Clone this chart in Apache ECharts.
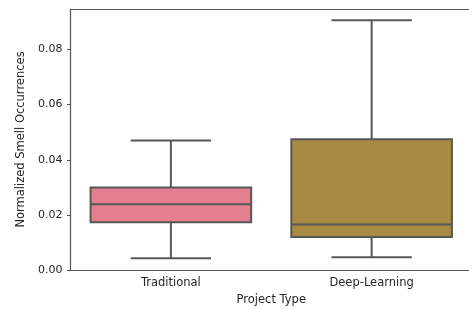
<!DOCTYPE html>
<html>
<head>
<meta charset="utf-8">
<script src="https://cdn.jsdelivr.net/npm/echarts@6/dist/echarts.min.js"></script>
<style>
  html, body { margin: 0; padding: 0; background: #fff; }
  #chart { width: 469px; height: 309px; }
</style>
</head>
<body>
<div id="chart"></div>
<script>
// [lower whisker, Q1, median, Q3, upper whisker]
const categories = ['Traditional', 'Deep-Learning']
const traditional = [0.0043, 0.0173, 0.0239, 0.0299, 0.0470]
const deepLearning = [0.0046, 0.0120, 0.0165, 0.0474, 0.0906]
const boxColors = ['#e57e8f', '#a88a42']
const yTicks = [0, 0.02, 0.04, 0.06, 0.08]

const stats = [traditional, deepLearning]
const edge = '#575757'
const spine = '#555'
const txt = '#262626'

const myChart = echarts.init(document.getElementById('chart'))

function renderBox(params, api) {
  const idx = api.value(0)
  const vals = [api.value(1), api.value(2), api.value(3), api.value(4), api.value(5)]
  const band = api.size([1, 0])[0]
  const cx = api.coord([idx, 0])[0]
  const y = vals.map(v => api.coord([idx, v])[1])
  const half = band * 0.4
  const cap = band * 0.2
  const line = { stroke: edge, lineWidth: 2 }
  return {
    type: 'group',
    children: [
      { type: 'line', shape: { x1: cx, y1: y[0], x2: cx, y2: y[1] }, style: line },
      { type: 'line', shape: { x1: cx, y1: y[3], x2: cx, y2: y[4] }, style: line },
      { type: 'line', shape: { x1: cx - cap, y1: y[0], x2: cx + cap, y2: y[0] }, style: line },
      { type: 'line', shape: { x1: cx - cap, y1: y[4], x2: cx + cap, y2: y[4] }, style: line },
      { type: 'rect', shape: { x: cx - half, y: y[3], width: half * 2, height: y[1] - y[3] },
        style: { fill: boxColors[idx], stroke: edge, lineWidth: 2 } },
      { type: 'line', shape: { x1: cx - half, y1: y[2], x2: cx + half, y2: y[2] }, style: line }
    ]
  }
}

const option = {
  animation: false,
  textStyle: { fontFamily: 'DejaVu Sans' },
  grid: { left: 70.5, width: 401.5, top: 9, height: 261, outerBoundsMode: 'none', containLabel: false },
  xAxis: [{
    type: 'category',
    data: categories,
    boundaryGap: true,
    name: 'Project Type',
    nameLocation: 'middle',
    nameGap: 24,
    nameTextStyle: { fontSize: 11.5, color: txt },
    axisLine: { lineStyle: { color: spine, width: 1.2 } },
    axisTick: { alignWithLabel: true, length: 3.5, lineStyle: { color: spine } },
    axisLabel: { fontSize: 11.5, color: txt, margin: 7 },
    splitLine: { show: false }
  }, {
    type: 'category',
    data: categories,
    position: 'top',
    axisLine: { show: true, lineStyle: { color: spine, width: 1.2 } },
    axisTick: { show: false },
    axisLabel: { show: false },
    splitLine: { show: false }
  }],
  yAxis: {
    type: 'value',
    min: 0,
    max: 0.0947,
    interval: 0.02,
    name: 'Normalized Smell Occurrences',
    nameLocation: 'middle',
    nameGap: 41,
    nameTextStyle: { fontSize: 11.5, color: txt },
    axisLine: { show: true, lineStyle: { color: spine, width: 1.2 } },
    axisTick: { show: true, length: 3.5, lineStyle: { color: spine } },
    axisLabel: {
      fontSize: 11, color: txt, margin: 8, showMaxLabel: false,
      formatter: v => (yTicks.some(t => Math.abs(t - v) < 1e-9) ? v.toFixed(2) : '')
    },
    splitLine: { show: false }
  },
  series: [{
    type: 'custom',
    renderItem: renderBox,
    encode: { x: 0, y: [1, 2, 3, 4, 5] },
    data: stats.map((s, i) => [i, ...s])
  }]
}
myChart.setOption(option)
</script>
</body>
</html>
